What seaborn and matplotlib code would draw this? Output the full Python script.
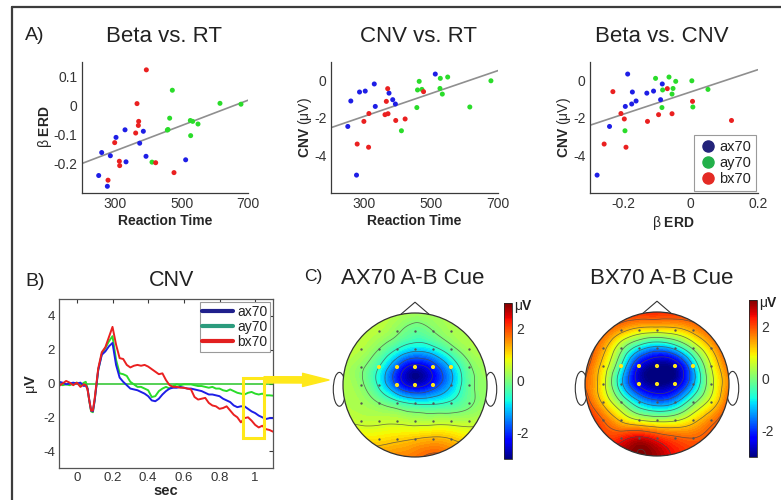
import numpy as np
import pandas as pd
import matplotlib
matplotlib.use("Agg")
import matplotlib.pyplot as plt
import matplotlib.tri as mtri
from matplotlib.lines import Line2D
from matplotlib.patches import Circle, Ellipse, Polygon, Rectangle
import seaborn as sns

# === A) valores por sujeto (RT, beta ERD, CNV) ===
conds = ["ax70", "ay70", "bx70"]
ax70_rt = [251, 260, 277, 286, 303, 330, 333, 374, 385, 393, 512]
ax70_beta = [-0.241, -0.162, -0.278, -0.173, -0.110, -0.084, -0.194, -0.130, -0.089, -0.175, -0.187]
ax70_cnv = [-2.46, -1.10, -5.06, -0.62, -0.57, -0.19, -1.39, -0.68, -1.03, -1.26, 0.34]
ay70_rt = [411, 464, 472, 459, 457, 526, 527, 533, 549, 615, 678]
ay70_beta = [-0.195, -0.044, 0.052, -0.083, -0.085, -0.052, -0.104, -0.055, -0.064, 0.007, 0.004]
ay70_cnv = [-2.69, -0.05, -0.48, -0.51, -1.45, -0.43, 0.11, -0.73, 0.18, -1.42, -0.02]
bx70_rt = [279, 477, 299, 314, 313, 422, 362, 394, 366, 370, 371]
bx70_beta = [-0.257, -0.231, -0.128, -0.207, -0.192, -0.197, -0.095, 0.122, 0.006, -0.069, -0.055]
bx70_cnv = [-3.40, -0.60, -2.19, -1.77, -3.57, -2.06, -1.83, -2.14, -1.12, -0.44, -1.78]

# rectas de regresion (extremos)
fit_rt = [200, 700]
fit_beta_rt = [-0.200, 0.018]
fit_cnv_rt = [-2.53, 0.53]
fit_beta = [-0.3, 0.2]
fit_cnv_beta = [-2.40, 0.57]

# === B) CNV en el tiempo ===
t_sec = [-0.10, -0.08, -0.06, -0.04, -0.02, 0.00, 0.02, 0.04,
         0.05, 0.06, 0.07, 0.08, 0.09, 0.10, 0.11, 0.12,
         0.14, 0.16, 0.18, 0.20, 0.22, 0.24, 0.26, 0.28, 0.30, 0.32,
         0.34, 0.36, 0.38, 0.40, 0.42, 0.44, 0.46, 0.48, 0.50, 0.52,
         0.54, 0.56, 0.58, 0.60, 0.62, 0.64, 0.66, 0.68, 0.70, 0.72,
         0.74, 0.76, 0.78, 0.80, 0.82, 0.84, 0.86, 0.88, 0.90, 0.92,
         0.94, 0.96, 0.98, 1.00, 1.02, 1.04, 1.06, 1.08, 1.10]
cnv_ax70 = [0.10, 0.05, -0.05, 0.00, 0.05, 0.00, 0.05, -0.15,
            -0.10, -0.30, -1.00, -1.60, -1.65, -1.00, -0.10, 0.80,
            1.70, 1.90, 2.20, 2.40, 1.10, 0.35, 0.10, -0.10, -0.30, -0.35,
            -0.40, -0.50, -0.60, -0.75, -1.00, -1.05, -0.90, -0.65, -0.45, -0.30,
            -0.25, -0.25, -0.20, -0.25, -0.30, -0.30, -0.35, -0.40, -0.45, -0.55,
            -0.65, -0.65, -0.70, -0.75, -0.90, -1.00, -1.10, -1.30, -1.40, -1.35,
            -1.35, -1.50, -1.65, -1.75, -1.90, -2.00, -2.10, -2.05, -2.05]
cnv_ay70 = [0.00, -0.10, -0.05, -0.10, 0.00, 0.05, -0.10, 0.05,
            0.10, -0.30, -1.05, -1.65, -1.70, -1.00, -0.10, 0.80,
            1.75, 2.10, 2.50, 2.80, 1.40, 0.60, 0.55, 0.45, 0.10, -0.05,
            -0.20, -0.20, -0.30, -0.40, -0.80, -0.75, -0.45, -0.30, -0.20, -0.30,
            -0.15, -0.05, -0.10, -0.05, -0.05, -0.05, -0.10, -0.15, -0.15, -0.20,
            -0.25, -0.20, -0.30, -0.30, -0.40, -0.45, -0.35, -0.45, -0.55, -0.60,
            -0.65, -0.55, -0.50, -0.60, -0.65, -0.60, -0.70, -0.70, -0.72]
cnv_bx70 = [-0.15, 0.00, 0.15, 0.05, -0.10, 0.05, -0.20, -0.05,
            -0.10, -0.35, -1.00, -1.60, -1.60, -0.90, 0.00, 0.90,
            1.85, 2.15, 2.75, 3.35, 2.30, 1.50, 1.45, 1.10, 0.95, 1.05,
            1.10, 1.05, 1.10, 1.00, 0.85, 0.70, 0.55, 0.60, 0.20, -0.10,
            -0.20, -0.20, -0.25, -0.25, -0.30, -0.35, -0.80, -0.95, -0.90, -0.85,
            -1.15, -1.30, -1.35, -1.50, -1.45, -1.35, -1.60, -1.85, -2.00, -2.30,
            -2.05, -2.00, -2.20, -2.45, -2.60, -2.50, -2.70, -2.75, -2.85]

# === C) mapas topograficos: rejilla 9x9 (filas de frente a nuca, columnas izq. a der.) ===
topo_ax70 = [
    [0.5, 0.5, 0.5, 0.4, 0.3, 0.3, 0.4, 0.5, 0.5],
    [0.5, 0.5, 0.4, 0.1, -0.2, 0.0, 0.3, 0.4, 0.4],
    [0.5, 0.4, 0.0, -0.6, -1.0, -0.8, -0.2, 0.3, 0.4],
    [0.4, 0.1, -0.6, -1.8, -2.6, -2.1, -1.1, -0.1, 0.3],
    [0.4, 0.1, -0.7, -1.9, -2.6, -2.1, -1.2, -0.2, 0.2],
    [0.4, 0.3, 0.0, -0.4, -0.7, -0.7, -0.5, -0.1, 0.2],
    [0.6, 0.5, 0.5, 0.5, 0.4, 0.4, 0.4, 0.4, 0.5],
    [1.1, 1.0, 1.0, 1.1, 1.2, 1.3, 1.2, 1.0, 1.0],
    [1.4, 1.4, 1.5, 1.6, 1.7, 1.9, 1.7, 1.5, 1.4],
]
topo_bx70 = [
    [2.2, 2.2, 2.2, 2.2, 2.2, 2.2, 2.2, 2.2, 2.2],
    [2.3, 1.9, 1.4, 1.0, 0.9, 1.0, 1.4, 1.9, 2.3],
    [2.2, 1.4, 0.2, -0.9, -1.4, -1.0, 0.1, 1.2, 2.2],
    [2.0, 1.0, -0.6, -2.4, -3.0, -2.8, -1.2, 0.6, 1.8],
    [1.8, 0.8, -1.0, -2.5, -3.0, -2.7, -1.3, 0.4, 1.6],
    [2.1, 1.1, 0.0, -1.1, -1.6, -1.3, -0.2, 0.8, 1.9],
    [2.3, 1.8, 1.1, 0.6, 0.4, 0.5, 1.0, 1.6, 2.2],
    [2.4, 2.1, 2.2, 2.5, 2.2, 1.9, 1.8, 2.0, 2.3],
    [2.5, 2.5, 2.8, 3.0, 2.8, 2.3, 2.1, 2.2, 2.4],
]
# electrodos destacados (fila, columna) de la rejilla
roi_cells = [(3, 2), (3, 3), (3, 4), (3, 5), (3, 6), (4, 3), (4, 4), (4, 5)]

# === estilo ===
sns.set_theme(style="white")
plt.rcParams["font.family"] = ["Liberation Sans", "DejaVu Sans"]
plt.rcParams["mathtext.fontset"] = "custom"
plt.rcParams["mathtext.rm"] = "Liberation Sans"
plt.rcParams["mathtext.bf"] = "Liberation Sans:bold"
plt.rcParams["mathtext.it"] = "Liberation Sans:italic"
plt.rcParams["axes.unicode_minus"] = False
plt.rcParams["text.color"] = "#222222"

pt_colors = {"ax70": "#1e1ee6", "ay70": "#2adc2a", "bx70": "#ea2020"}
leg_colors = {"ax70": "#23237a", "ay70": "#22b04a", "bx70": "#e42a24"}
line_leg_colors = {"ax70": "#20208c", "ay70": "#2b9b7d", "bx70": "#e22020"}
yellow = "#ffe81a"

W, H = 781, 500
fig = plt.figure(figsize=(W / 100, H / 100), dpi=100)


def px_rect(x0, y0, x1, y1):
    return [x0 / W, 1 - y1 / H, (x1 - x0) / W, (y1 - y0) / H]


# tabla larga para A
rows = []
for c, rt, b, v in [("ax70", ax70_rt, ax70_beta, ax70_cnv),
                    ("ay70", ay70_rt, ay70_beta, ay70_cnv),
                    ("bx70", bx70_rt, bx70_beta, bx70_cnv)]:
    for i in range(len(rt)):
        rows.append({"cond": c, "rt": rt[i], "beta": b[i], "cnv": v[i]})
df = pd.DataFrame(rows)


def style_scatter(ax):
    sns.despine(ax=ax)
    for s in ["left", "bottom"]:
        ax.spines[s].set_color("#3a3a3a")
        ax.spines[s].set_linewidth(0.9)
    ax.tick_params(direction="in", length=3, width=0.8, labelsize=10,
                   color="#3a3a3a", labelcolor="#333333", pad=3)


axA1 = fig.add_axes(px_rect(81.7, 61.7, 248.3, 192.7))
axA2 = fig.add_axes(px_rect(330.7, 61.7, 498.3, 192.7))
axA3 = fig.add_axes(px_rect(589.7, 61.7, 757.7, 192.7))

panels = [(axA1, "rt", "beta", fit_rt, fit_beta_rt),
          (axA2, "rt", "cnv", fit_rt, fit_cnv_rt),
          (axA3, "beta", "cnv", fit_beta, fit_cnv_beta)]
for ax, xc, yc, fx, fy in panels:
    sns.lineplot(x=fx, y=fy, color="#8f8f8f", lw=1.2, ax=ax)
    sns.scatterplot(data=df, x=xc, y=yc, hue="cond", palette=pt_colors,
                    s=13, edgecolor="none", legend=False, ax=ax, zorder=3)
    style_scatter(ax)

beta_lbl = r"$\mathrm{\beta}$ ERD"
cnv_lbl = r"$\mathbf{CNV}$ $\mathrm{(\mu V)}$"

axA1.set_xlim(200, 700)
axA1.set_ylim(-0.3, 0.15)
axA1.set_xticks(range(200, 701, 100), ["", "300", "", "500", "", "700"])
axA1.set_yticks([-0.2, -0.1, 0, 0.1], ["-0.2", "-0.1", "0", "0.1"])
axA1.set_xlabel("Reaction Time", fontsize=10, fontweight="bold", labelpad=2)
axA1.set_ylabel(beta_lbl, fontsize=10, fontweight="bold", labelpad=0)

axA2.set_xlim(200, 700)
axA2.set_ylim(-6, 1)
axA2.set_xticks(range(200, 701, 100), ["", "300", "", "500", "", "700"])
axA2.set_yticks(range(-6, 2), ["", "", "-4", "", "-2", "", "0", ""])
axA2.set_xlabel("Reaction Time", fontsize=10, fontweight="bold", labelpad=2)
axA2.set_ylabel(cnv_lbl, fontsize=10, labelpad=0)

axA3.set_xlim(-0.3, 0.2)
axA3.set_ylim(-6, 1)
axA3.set_xticks([-0.3, -0.2, -0.1, 0, 0.1, 0.2], ["", "-0.2", "", "0", "", "0.2"])
axA3.set_yticks(range(-6, 2), ["", "", "-4", "", "-2", "", "0", ""])
axA3.set_xlabel(beta_lbl, fontsize=10, fontweight="bold", labelpad=2)
axA3.set_ylabel(cnv_lbl, fontsize=10, labelpad=0)

handles = [Line2D([], [], ls="none", marker="o", ms=8, color=leg_colors[c], label=c) for c in conds]
leg = axA3.legend(handles=handles, loc="lower right", fontsize=10.5, frameon=True,
                  fancybox=False, edgecolor="#9a9a9a", framealpha=1,
                  handletextpad=0.2, borderpad=0.3, labelspacing=0.15,
                  borderaxespad=0.15, handlelength=1.2)
leg.get_frame().set_linewidth(0.8)

# === B) ===
axB = fig.add_axes(px_rect(59, 299, 273, 468))
long = pd.DataFrame({"t": t_sec * 3,
                     "v": cnv_ax70 + cnv_ay70 + cnv_bx70,
                     "cond": ["ax70"] * len(t_sec) + ["ay70"] * len(t_sec) + ["bx70"] * len(t_sec)})
axB.axhline(0, color="#27c427", lw=1.1, zorder=1)
sns.lineplot(data=long, x="t", y="v", hue="cond", hue_order=["ay70", "ax70", "bx70"],
             palette=pt_colors, lw=1.4, legend=False, ax=axB, zorder=2)
axB.set_xlim(-0.1, 1.1)
axB.set_ylim(-5, 5)
axB.set_xticks([0, 0.2, 0.4, 0.6, 0.8, 1], ["0", "0.2", "0.4", "0.6", "0.8", "1"])
axB.set_yticks([-4, -2, 0, 2, 4], ["-4", "-2", "0", "2", "4"])
axB.tick_params(direction="in", length=3, width=0.8, labelsize=9.5, top=True, right=True,
                color="#3a3a3a", labelcolor="#333333", pad=3)
for s in axB.spines.values():
    s.set_color("#555555")
    s.set_linewidth(0.9)
axB.set_xlabel("sec", fontsize=10.5, fontweight="bold", labelpad=0)
axB.set_ylabel(r"$\mathrm{\mu}\mathbf{V}$", fontsize=10.5, labelpad=2)
lh = [Line2D([], [], color=line_leg_colors[c], lw=3, label=c) for c in conds]
legB = axB.legend(handles=lh, loc="upper right", fontsize=10, frameon=True, fancybox=False,
                  edgecolor="#9a9a9a", framealpha=1, handlelength=2.2, handletextpad=0.3,
                  borderpad=0.2, labelspacing=0.1, borderaxespad=0.2)
legB.get_frame().set_linewidth(0.8)
axB.add_patch(Rectangle((0.93, -3.2), 0.12, 3.55, fill=False, ec=yellow, lw=2.2, zorder=5,
                        clip_on=False))
axB.annotate("", xy=(329 / W, 1 - 380 / H), xycoords="figure fraction",
             xytext=(1.05, 0.22), textcoords="data",
             arrowprops=dict(arrowstyle="simple,head_width=0.95,head_length=1.9,tail_width=0.45",
                             color=yellow, shrinkA=0, shrinkB=0, mutation_scale=10),
             annotation_clip=False)

# === C) mapas ===
norm = plt.Normalize(-3, 3)
gx = np.linspace(-1, 1, 9)
gy = np.linspace(1, -1, 9)
GX, GY = np.meshgrid(gx, gy)
tris = []
for i in range(8):
    for j in range(8):
        a = i * 9 + j
        tris += [[a, a + 1, a + 10], [a, a + 10, a + 9]]
triang = mtri.Triangulation(GX.ravel(), GY.ravel(), tris)
refiner = mtri.UniformTriRefiner(triang)


def draw_head(ax, values):
    tri_f, z_f = refiner.refine_field(np.array(values, dtype=float).ravel(), subdiv=4)
    ax.add_patch(Ellipse((-1.05, -0.06), 0.17, 0.47, fc="white", ec="#333333", lw=0.8, zorder=1))
    ax.add_patch(Ellipse((1.05, -0.06), 0.17, 0.47, fc="white", ec="#333333", lw=0.8, zorder=1))
    ax.add_patch(Polygon([[-0.21, 0.97], [0, 1.15], [0.21, 0.97]], closed=True,
                         fc="white", ec="#333333", lw=0.8, zorder=1))
    ax.add_patch(Circle((0, 0), 1, fc="white", ec="none", zorder=1.5))
    clip = Circle((0, 0), 1, transform=ax.transData)
    cf = ax.tricontourf(tri_f, z_f, levels=np.linspace(-3, 3, 61), cmap="jet", norm=norm,
                        extend="both", zorder=2)
    cf.set_clip_path(clip)
    cl = ax.tricontour(tri_f, z_f, levels=np.arange(-2.4, 3.0, 0.6),
                       colors="#4a4a4a", linewidths=0.55, alpha=0.75, zorder=3,
                       negative_linestyles="solid")
    cl.set_clip_path(clip)
    ax.add_patch(Circle((0, 0), 1, fill=False, ec="#333333", lw=0.9, zorder=4))
    inside = GX ** 2 + GY ** 2 < 0.95
    ax.scatter(GX[inside], GY[inside], s=0.5, color="#555555", zorder=4)
    ax.scatter([gx[j] for i, j in roi_cells], [gy[i] for i, j in roi_cells],
               s=9, color=yellow, edgecolor="none", zorder=5)
    ax.set_xlim(-1.3, 1.3)
    ax.set_ylim(-1.3, 1.3)
    ax.set_aspect("equal")
    ax.axis("off")


R = 72 * 1.3
axC1 = fig.add_axes(px_rect(415 - R, 385 - R, 415 + R, 385 + R))
axC2 = fig.add_axes(px_rect(657 - R, 384 - R, 657 + R, 384 + R))
draw_head(axC1, topo_ax70)
draw_head(axC2, topo_bx70)

sm = plt.cm.ScalarMappable(norm=norm, cmap="jet")
for (x0, y0, y1) in [(504, 303, 459), (749, 300, 457)]:
    cax = fig.add_axes(px_rect(x0, y0, x0 + 8, y1))
    cb = fig.colorbar(sm, cax=cax)
    cb.set_ticks([-2, 0, 2], labels=["-2", "0", "2"])
    cb.ax.tick_params(labelsize=10, length=0, pad=3, labelcolor="#333333")
    cb.outline.set_linewidth(0.6)
    cax.text(1.2, 0.975, r"$\mathrm{\mu}\mathbf{V}$", transform=cax.transAxes, fontsize=10,
             va="center", ha="left")

# === textos de titulos y letras ===
def ftext(x, y, s, **kw):
    fig.text(x / W, 1 - y / H, s, **kw)


ftext(25, 36, "A)", fontsize=14, ha="left", va="center")
ftext(25, 281, "B)", fontsize=14, ha="left", va="center")
ftext(304, 276, "C)", fontsize=12.5, ha="left", va="center")
ftext(164, 36, "Beta vs. RT", fontsize=16, ha="center", va="center")
ftext(419, 36, "CNV vs. RT", fontsize=16, ha="center", va="center")
ftext(662, 36, "Beta vs. CNV", fontsize=16, ha="center", va="center")
ftext(172, 280, "CNV", fontsize=15.5, ha="center", va="center")
ftext(413, 278, "AX70 A-B Cue", fontsize=16, ha="center", va="center")
ftext(662, 278, "BX70 A-B Cue", fontsize=16, ha="center", va="center")

# marco exterior
fig.add_artist(Line2D([12 / W, 12 / W], [0, 1 - 7 / H], transform=fig.transFigure,
                      color="#3c3c3c", lw=1.6))
fig.add_artist(Line2D([12 / W, 1], [1 - 7 / H, 1 - 7 / H], transform=fig.transFigure,
                      color="#3c3c3c", lw=1.6))

fig.savefig("out.png", dpi=100)
